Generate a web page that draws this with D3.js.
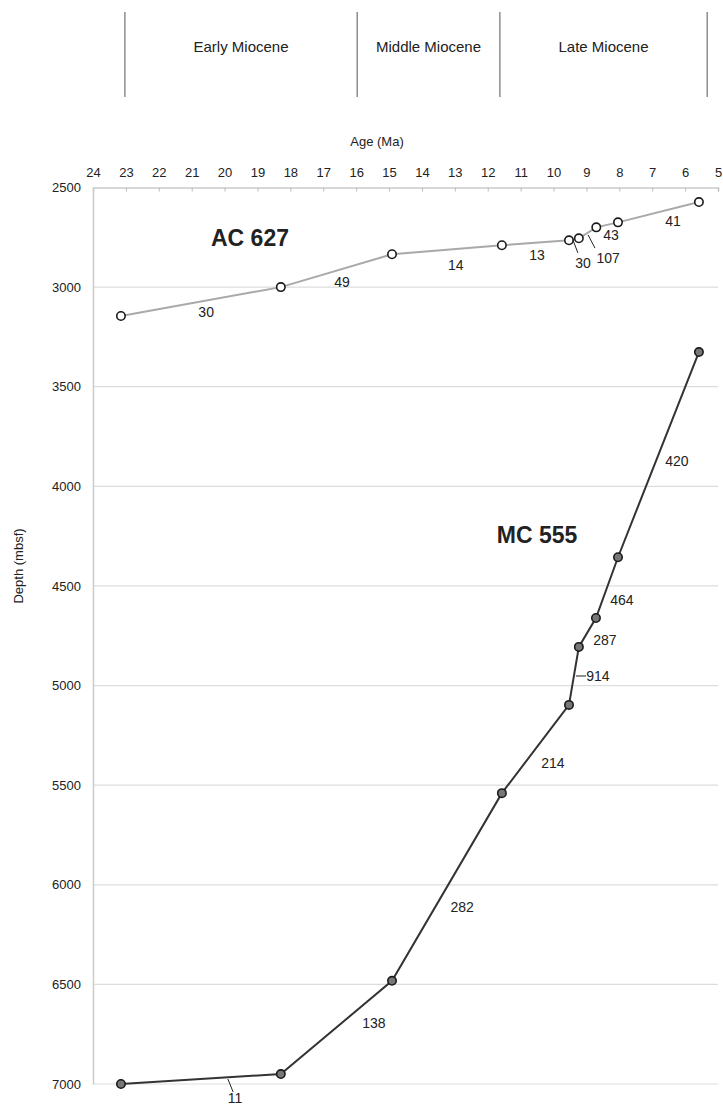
<!DOCTYPE html>
<html lang="en">
<head>
<meta charset="UTF-8">
<title>Age-depth plot AC 627 / MC 555</title>
<script src="https://cdn.jsdelivr.net/npm/d3@7"></script>
<style>
  body { margin: 0; background: #fff; }
  svg text { font-family: "Liberation Sans", Arial, sans-serif; fill: #222; }
  .grid line { stroke: #ddd; stroke-width: 1.2; }
</style>
</head>
<body>
<svg id="chart" width="723" height="1105"></svg>
<script>
// epoch boundaries (Ma) and names
const epochBounds = [23.03, 15.97, 11.63, 5.33];
const epochNames = ["Early Miocene", "Middle Miocene", "Late Miocene"];

// axis ticks
const ageTicks = d3.range(24, 4, -1);
const depthTicks = [2500, 3000, 3500, 4000, 4500, 5000, 5500, 6000, 6500, 7000];

// AC 627 tie points
const acAge   = [23.15, 18.29, 14.91, 11.57, 9.53, 9.23, 8.70, 8.04, 5.58];
const acDepth = [3145, 3000, 2835, 2790, 2765, 2755, 2700, 2675, 2573];
// sedimentation rate labels (value, age, depth)
const acRates = ["30", "49", "14", "13", "30", "107", "43", "41"];
const acRateAge   = [20.56, 16.43, 12.97, 10.5, 9.1, 8.34, 8.25, 6.37];
const acRateDepth = [3125, 2974, 2889, 2839, 2879, 2854, 2738, 2668];

// MC 555 tie points
const mcAge   = [23.15, 18.29, 14.91, 11.57, 9.53, 9.23, 8.71, 8.04, 5.58];
const mcDepth = [7000, 6950, 6482, 5540, 5097, 4806, 4661, 4356, 3326];
const mcRates = ["11", "138", "282", "214", "914", "287", "464", "420"];
const mcRateAge   = [19.68, 15.46, 12.78, 10.02, 8.65, 8.44, 7.92, 6.25];
const mcRateDepth = [7070, 6694, 6112, 5389, 4952, 4771, 4570, 3873];

// little leader lines from segment to label [age1, depth1, age2, depth2]
const leaders = [
  [9.41, 2763, 9.26, 2828],
  [8.95, 2738, 8.74, 2804],
  [9.32, 4952, 9.01, 4952],
  [19.9, 6975, 19.74, 7040]
];

const svg = d3.select("#chart");
const x = d3.scaleLinear().domain([24, 5]).range([93, 718]);
const y = d3.scaleLinear().domain([2500, 7000]).range([187.5, 1084]);

// epoch header
svg.append("g").selectAll("line").data(epochBounds).join("line")
  .attr("x1", d => x(d)).attr("x2", d => x(d))
  .attr("y1", 12).attr("y2", 97)
  .attr("stroke", "#555").attr("stroke-width", 1);
svg.append("g").selectAll("text").data(epochNames).join("text")
  .attr("x", (d, i) => (x(epochBounds[i]) + x(epochBounds[i + 1])) / 2)
  .attr("y", 47).attr("dy", "0.35em")
  .attr("text-anchor", "middle").attr("font-size", 15)
  .text(d => d);

// horizontal gridlines
svg.append("g").attr("class", "grid")
  .selectAll("line").data(depthTicks.slice(1)).join("line")
  .attr("x1", x(24)).attr("x2", x(5))
  .attr("y1", d => y(d)).attr("y2", d => y(d));

// top axis (age)
const xAxis = d3.axisTop(x).tickValues(ageTicks).tickSize(-4).tickPadding(11).tickFormat(d3.format("d"));
const gx = svg.append("g").attr("transform", `translate(0,${y(2500)})`).call(xAxis);
gx.select(".domain").attr("stroke", "#ccc").attr("stroke-width", 1.5);
gx.selectAll(".tick line").attr("stroke", "#bbb");
gx.selectAll(".tick text").attr("font-size", 13).attr("font-family", "Liberation Sans, Arial, sans-serif").attr("fill", "#222");

// left axis (depth)
const yAxis = d3.axisLeft(y).tickValues(depthTicks).tickSize(0).tickPadding(12).tickFormat(d3.format("d"));
const gy = svg.append("g").attr("transform", `translate(${x(24)},0)`).call(yAxis);
gy.select(".domain").attr("stroke", "#ccc").attr("stroke-width", 1.5);
gy.selectAll(".tick text").attr("font-size", 13).attr("font-family", "Liberation Sans, Arial, sans-serif").attr("fill", "#222");

// axis titles
svg.append("text").attr("x", 377).attr("y", 141).attr("dy", "0.35em")
  .attr("text-anchor", "middle").attr("font-size", 13).text("Age (Ma)");
svg.append("text").attr("transform", "translate(18,566) rotate(-90)")
  .attr("dy", "0.35em").attr("text-anchor", "middle").attr("font-size", 13)
  .text("Depth (mbsf)");

const line = d3.line().x(d => x(d[0])).y(d => y(d[1]));

function drawSeries(ages, depths, lineColor, fill) {
  const pts = ages.map((a, i) => [a, depths[i]]);
  svg.append("path").datum(pts).attr("d", line)
    .attr("fill", "none").attr("stroke", lineColor).attr("stroke-width", 2);
  svg.append("g").selectAll("circle").data(pts).join("circle")
    .attr("cx", d => x(d[0])).attr("cy", d => y(d[1])).attr("r", 4.2)
    .attr("fill", fill).attr("stroke", "#1a1a1a").attr("stroke-width", 1.6);
}

function drawRates(labels, ages, depths) {
  svg.append("g").selectAll("text").data(labels).join("text")
    .attr("x", (d, i) => x(ages[i])).attr("y", (d, i) => y(depths[i]))
    .attr("dy", "0.35em").attr("text-anchor", "middle").attr("font-size", 14)
    .attr("fill", "#222")
    .text(d => d);
}

drawSeries(acAge, acDepth, "#a9a9a9", "#fff");
drawSeries(mcAge, mcDepth, "#333", "#777");
drawRates(acRates, acRateAge, acRateDepth);
drawRates(mcRates, mcRateAge, mcRateDepth);

svg.append("g").selectAll("line").data(leaders).join("line")
  .attr("x1", d => x(d[0])).attr("y1", d => y(d[1]))
  .attr("x2", d => x(d[2])).attr("y2", d => y(d[3]))
  .attr("stroke", "#222").attr("stroke-width", 1);

// core names
svg.append("text").attr("x", 250).attr("y", 238).attr("dy", "0.35em")
  .attr("text-anchor", "middle").attr("font-size", 23).attr("font-weight", "bold")
  .text("AC 627");
svg.append("text").attr("x", 537).attr("y", 535).attr("dy", "0.35em")
  .attr("text-anchor", "middle").attr("font-size", 23).attr("font-weight", "bold")
  .text("MC 555");
</script>
</body>
</html>
